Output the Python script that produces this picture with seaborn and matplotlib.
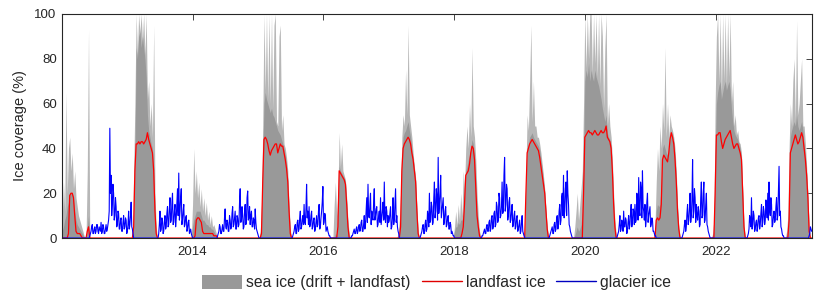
import pandas as pd
import matplotlib.pyplot as plt
import seaborn as sns
from matplotlib.patches import Patch
from matplotlib.lines import Line2D

# ==============================================================================
# DATA (zero outside the listed blocks)
# ==============================================================================
GRID_START = '2012-01-04'
GRID_END = '2023-06-21'

# ice seasons: first week of each block (weekly values)
season_starts = ['2012-01-04', '2013-02-06', '2014-01-01', '2015-01-14',
                 '2016-03-02', '2017-02-22', '2018-01-03', '2019-01-30',
                 '2019-11-06', '2021-01-27', '2021-12-15', '2023-02-01']

# landfast ice (%)
landfast = [
    [0, 0, 0, 0, 0, 2, 19, 20, 20, 18, 10, 3, 2, 2, 2, 1, 0, 0, 0, 0, 3, 5, 0],
    [5, 30, 42, 42, 43, 42, 43, 43, 42, 43, 44, 47, 44, 42, 40, 38, 30, 12, 2, 0],
    [0, 0, 1, 8, 9, 9, 8, 7, 3, 2, 2, 2, 2, 2, 2, 2, 2, 1, 1, 1, 0],
    [0, 2, 25, 44, 45, 44, 42, 39, 37, 39, 40, 41, 42, 42, 38, 40, 42, 41, 41,
     38, 35, 31, 25, 12, 2, 0],
    [0, 0, 0, 5, 30, 29, 28, 27, 26, 24, 15, 5, 0, 0],
    [0, 0, 5, 30, 40, 42, 43, 44, 45, 44, 42, 38, 35, 30, 25, 12, 2, 0],
    [0, 0, 0, 0, 0, 0, 2, 5, 15, 28, 29, 30, 33, 38, 41, 40, 35, 22, 10, 5, 1, 0, 0],
    [0, 20, 38, 40, 42, 43, 44, 43, 42, 41, 40, 39, 36, 32, 28, 24, 20, 12, 4, 0, 0],
    [0, 0, 0, 0, 0, 0, 0, 20, 45, 46, 47, 48, 47, 47, 46, 47, 48, 47, 46, 46,
     47, 48, 47, 47, 48, 50, 45, 44, 43, 40, 30, 15, 5, 0, 0],
    [0, 8, 9, 8, 9, 15, 35, 37, 36, 35, 34, 38, 44, 47, 45, 42, 35, 25, 12, 4, 0, 0],
    [0, 0, 20, 46, 46, 47, 47, 43, 40, 42, 44, 45, 46, 47, 48, 45, 42, 40, 41,
     42, 42, 40, 38, 35, 20, 5, 0, 0],
    [0, 0, 8, 38, 40, 42, 44, 46, 44, 42, 43, 45, 47, 45, 40, 35, 28, 18, 3, 0],
]

# sea ice (drift + landfast), spike tops (%)
sea_peak = [
    [8, 25, 12, 65, 20, 40, 45, 30, 38, 22, 30, 18, 14, 10, 8, 6, 4, 2, 0, 0, 30, 93, 0],
    [30, 60, 100, 82, 100, 92, 100, 88, 100, 82, 100, 62, 70, 50, 60, 45, 95, 20, 5, 0],
    [15, 40, 20, 30, 18, 25, 14, 22, 12, 18, 10, 16, 8, 12, 6, 10, 5, 6, 4, 2, 0],
    [3, 15, 50, 100, 66, 100, 62, 100, 60, 100, 58, 95, 100, 52, 50, 90, 95, 48,
     55, 42, 40, 36, 30, 15, 4, 0],
    [15, 25, 10, 20, 47, 32, 42, 30, 28, 26, 18, 8, 2, 0],
    [2, 8, 20, 45, 55, 50, 75, 55, 95, 55, 50, 45, 38, 32, 27, 14, 3, 0],
    [5, 12, 6, 15, 8, 20, 10, 30, 22, 40, 50, 40, 60, 45, 85, 50, 45, 35, 20, 10, 3, 1, 0],
    [3, 30, 55, 48, 70, 95, 52, 70, 50, 50, 45, 45, 42, 38, 33, 28, 22, 13, 5, 1, 0],
    [5, 12, 20, 8, 15, 22, 30, 60, 100, 76, 100, 80, 100, 100, 74, 100, 78, 100,
     72, 100, 68, 100, 90, 58, 85, 100, 50, 60, 50, 45, 35, 20, 8, 2, 0],
    [5, 25, 40, 30, 50, 40, 60, 48, 85, 45, 60, 45, 55, 50, 48, 45, 40, 30, 15, 5, 1, 0],
    [2, 8, 60, 90, 100, 70, 100, 64, 100, 70, 100, 68, 100, 72, 100, 60, 70, 50,
     55, 46, 48, 43, 42, 38, 22, 6, 1, 0],
    [3, 10, 40, 60, 50, 70, 80, 52, 97, 55, 60, 70, 80, 50, 50, 42, 32, 20, 5, 0],
]

# sea ice, dense core (%)
sea_core = [
    [3, 5, 8, 10, 14, 16, 20, 20, 20, 18, 12, 8, 6, 5, 4, 3, 2, 1, 0, 0, 5, 10, 0],
    [10, 35, 85, 80, 90, 92, 85, 90, 85, 80, 72, 55, 48, 45, 42, 40, 32, 13, 2, 0],
    [5, 8, 10, 12, 12, 12, 12, 10, 8, 8, 7, 6, 6, 5, 5, 4, 4, 3, 2, 1, 0],
    [1, 8, 35, 60, 65, 62, 60, 58, 56, 58, 55, 54, 52, 50, 48, 47, 46, 44, 42,
     40, 37, 33, 26, 13, 3, 0],
    [0, 2, 1, 10, 32, 30, 29, 28, 27, 25, 16, 6, 1, 0],
    [1, 3, 10, 35, 45, 47, 48, 50, 52, 48, 45, 40, 36, 31, 26, 13, 2, 0],
    [3, 5, 5, 7, 6, 8, 8, 10, 18, 30, 32, 35, 37, 40, 44, 42, 37, 25, 12, 6, 1, 0, 0],
    [1, 22, 40, 42, 45, 46, 47, 45, 44, 43, 42, 41, 39, 35, 31, 26, 21, 12, 4, 0, 0],
    [1, 3, 5, 3, 4, 6, 12, 35, 70, 75, 72, 78, 70, 75, 72, 70, 75, 72, 70, 68,
     65, 62, 58, 55, 52, 55, 47, 45, 44, 41, 31, 16, 5, 1, 0],
    [2, 12, 15, 14, 15, 25, 40, 42, 40, 38, 37, 40, 45, 48, 46, 43, 36, 26, 13, 4, 0, 0],
    [1, 3, 35, 60, 65, 68, 70, 62, 65, 68, 70, 66, 68, 70, 66, 58, 52, 48, 46,
     45, 44, 42, 40, 36, 21, 5, 0, 0],
    [1, 4, 20, 45, 48, 50, 52, 50, 55, 50, 48, 50, 52, 48, 42, 37, 29, 19, 4, 0],
]

# glacier ice (%), open-water periods, two values per week
glacier_starts = ['2012-06-06', '2013-06-26', '2014-05-21', '2015-07-15',
                  '2016-06-08', '2017-06-28', '2018-06-06', '2019-06-19',
                  '2020-07-01', '2021-06-30', '2022-06-29', '2023-06-07']
glacier = [
    [1, 2, 3, 5, 6, 2, 2, 4, 5, 2, 3, 6, 6, 3, 2, 5, 4, 3, 7, 2, 3, 6, 5, 2,
     2, 4, 6, 3, 4, 6, 8, 12, 49, 20, 28, 10, 15, 24, 20, 8, 10, 18, 14, 5,
     6, 12, 11, 4, 4, 8, 9, 3, 3, 7, 10, 4, 5, 9, 8, 2, 3, 6, 12, 4, 6, 10,
     16, 5, 4, 2],
    [2, 6, 12, 3, 4, 9, 8, 2, 3, 7, 10, 4, 5, 11, 14, 5, 6, 13, 18, 7, 8, 15,
     20, 6, 7, 12, 15, 5, 9, 16, 22, 10, 29, 8, 12, 18, 22, 6, 8, 12, 15, 5,
     6, 9, 10, 3, 4, 7, 8, 2, 3, 4, 2, 1],
    [1, 2, 3, 6, 5, 2, 2, 4, 6, 3, 3, 9, 13, 5, 4, 8, 7, 3, 3, 10, 8, 4, 5,
     11, 14, 5, 6, 9, 12, 4, 4, 10, 9, 5, 6, 16, 22, 7, 8, 14, 10, 4, 5, 12,
     15, 6, 7, 18, 21, 8, 9, 14, 6, 10, 12, 5, 5, 9, 8, 4, 13, 7, 4, 3, 2, 1],
    [1, 2, 3, 5, 6, 2, 2, 7, 8, 3, 4, 9, 12, 4, 5, 8, 10, 6, 15, 7, 6, 13, 24,
     9, 12, 6, 14, 5, 6, 10, 12, 4, 5, 8, 9, 3, 4, 7, 10, 5, 6, 12, 15, 4, 5,
     9, 12, 16, 23, 6, 7, 11, 10, 3, 4, 5, 3, 2, 1, 1],
    [1, 1, 2, 3, 4, 2, 2, 4, 5, 2, 3, 5, 6, 3, 4, 7, 8, 3, 3, 6, 10, 4, 6, 12,
     18, 7, 24, 10, 9, 15, 20, 6, 12, 9, 8, 16, 22, 8, 10, 13, 14, 5, 6, 10,
     12, 7, 18, 6, 9, 12, 16, 8, 25, 9, 7, 14, 12, 5, 10, 7, 8, 11, 14, 4, 5,
     9, 18, 6, 8, 15, 22, 7, 10, 5, 3, 2],
    [1, 2, 3, 5, 6, 2, 2, 6, 8, 3, 4, 12, 10, 5, 20, 7, 8, 16, 14, 6, 7, 18,
     25, 9, 12, 22, 18, 8, 36, 11, 15, 20, 28, 9, 12, 15, 18, 6, 8, 12, 14, 5,
     6, 9, 10, 4, 4, 7, 6, 2, 3, 2, 1, 1],
    [1, 1, 2, 3, 4, 2, 2, 5, 6, 3, 3, 7, 8, 3, 4, 9, 10, 4, 5, 11, 12, 5, 6,
     16, 14, 7, 8, 20, 18, 9, 10, 14, 25, 11, 12, 28, 36, 12, 15, 24, 22, 8,
     10, 16, 18, 7, 8, 12, 15, 5, 6, 10, 12, 4, 5, 9, 10, 3, 4, 6, 8, 2, 3, 7,
     10, 3, 2, 1],
    [1, 2, 3, 4, 5, 2, 2, 6, 7, 3, 4, 9, 10, 4, 6, 12, 15, 6, 8, 18, 20, 10,
     28, 9, 12, 22, 25, 10, 30, 20, 15, 6, 5, 3, 2, 1],
    [1, 2, 3, 6, 10, 3, 4, 8, 6, 3, 12, 5, 5, 9, 8, 2, 3, 7, 10, 4, 6, 11, 15,
     5, 7, 13, 12, 6, 15, 7, 8, 20, 18, 8, 27, 12, 10, 25, 22, 9, 30, 14, 12,
     8, 15, 5, 8, 16, 20, 7, 10, 12, 14, 5, 6, 9, 8, 3, 3, 2, 1, 1],
    [1, 2, 3, 6, 8, 3, 5, 11, 15, 6, 8, 13, 20, 7, 10, 17, 35, 9, 12, 22, 18,
     7, 15, 10, 8, 14, 12, 5, 6, 18, 25, 9, 10, 20, 25, 7, 8, 15, 20, 6, 5, 3,
     2, 1],
    [1, 2, 4, 10, 8, 5, 18, 4, 6, 12, 10, 3, 4, 7, 8, 3, 5, 9, 10, 4, 6, 11,
     15, 5, 7, 14, 12, 6, 8, 17, 14, 9, 20, 8, 25, 12, 10, 18, 15, 5, 6, 10,
     12, 7, 8, 14, 18, 8, 10, 22, 32, 10, 12, 5, 4, 2, 1, 1],
    [1, 2, 5, 4, 3],
]

year_ticks = [2014, 2016, 2018, 2020, 2022]
y_ticks = [0, 20, 40, 60, 80, 100]


# ==============================================================================
# BUILD SERIES
# ==============================================================================
weeks = pd.date_range(GRID_START, GRID_END, freq='7D')
half_weeks = pd.date_range(GRID_START, GRID_END, freq='84h')


def blocks_to_series(starts, blocks, grid, step):
    parts = [pd.Series(v, index=pd.date_range(s, periods=len(v), freq=step))
             for s, v in zip(starts, blocks)]
    s = pd.concat(parts).groupby(level=0).max()
    return s.reindex(grid, fill_value=0).astype(float)


df_sea = pd.DataFrame({
    'date': weeks,
    'landfast': blocks_to_series(season_starts, landfast, weeks, '7D').values,
    'sea_peak': blocks_to_series(season_starts, sea_peak, weeks, '7D').values,
    'sea_core': blocks_to_series(season_starts, sea_core, weeks, '7D').values,
})
df_glacier = pd.DataFrame({
    'date': half_weeks,
    'glacier': blocks_to_series(glacier_starts, glacier, half_weeks, '84h').values,
})

# ==============================================================================
# PLOT
# ==============================================================================
sns.set_theme(style='white')
plt.rcParams['font.family'] = ['Liberation Sans', 'DejaVu Sans']

fig = plt.figure(figsize=(8.24, 3.04), dpi=100)
ax = fig.add_axes([0.0755, 0.217, 0.9095, 0.737])

gray = '#999999'
ax.fill_between(df_sea['date'], 0, df_sea['sea_peak'], color=gray, alpha=0.7, lw=0)
ax.fill_between(df_sea['date'], 0, df_sea['sea_core'], color=gray, lw=0)
sns.lineplot(data=df_sea, x='date', y='landfast', ax=ax, color='#ff0000', linewidth=0.9)
sns.lineplot(data=df_glacier, x='date', y='glacier', ax=ax, color='#0000ff', linewidth=0.8)

ax.set_xlim(pd.Timestamp(GRID_START), pd.Timestamp(GRID_END))
ax.set_ylim(0, 100)
ax.set_xticks([pd.Timestamp(f'{y}-01-01') for y in year_ticks])
ax.set_xticklabels([str(y) for y in year_ticks])
ax.set_yticks(y_ticks)
ax.set_xlabel('')
ax.set_ylabel('Ice coverage (%)', fontsize=10.5, color='#262626', labelpad=5)

ax.tick_params(direction='in', length=4, width=0.6, top=True, right=True,
               labelsize=9.5, colors='#262626')
ax.tick_params(axis='x', pad=6)
ax.tick_params(axis='y', pad=4)
for sp in ax.spines.values():
    sp.set_visible(True)
    sp.set_color('#262626')
    sp.set_linewidth(0.8)

handles = [Patch(facecolor=gray, edgecolor='none'),
           Line2D([0], [0], color='#e00000', lw=1.0),
           Line2D([0], [0], color='#0000c0', lw=1.0)]
labels = ['sea ice (drift + landfast)', 'landfast ice', 'glacier ice']
fig.legend(handles, labels, loc='center', bbox_to_anchor=(0.53, 0.07), ncol=3,
           frameon=False, fontsize=11.3, handlelength=2.55, handleheight=1.0,
           handletextpad=0.25, columnspacing=0.7, labelcolor='#262626')

fig.savefig('out.png', dpi=100)
